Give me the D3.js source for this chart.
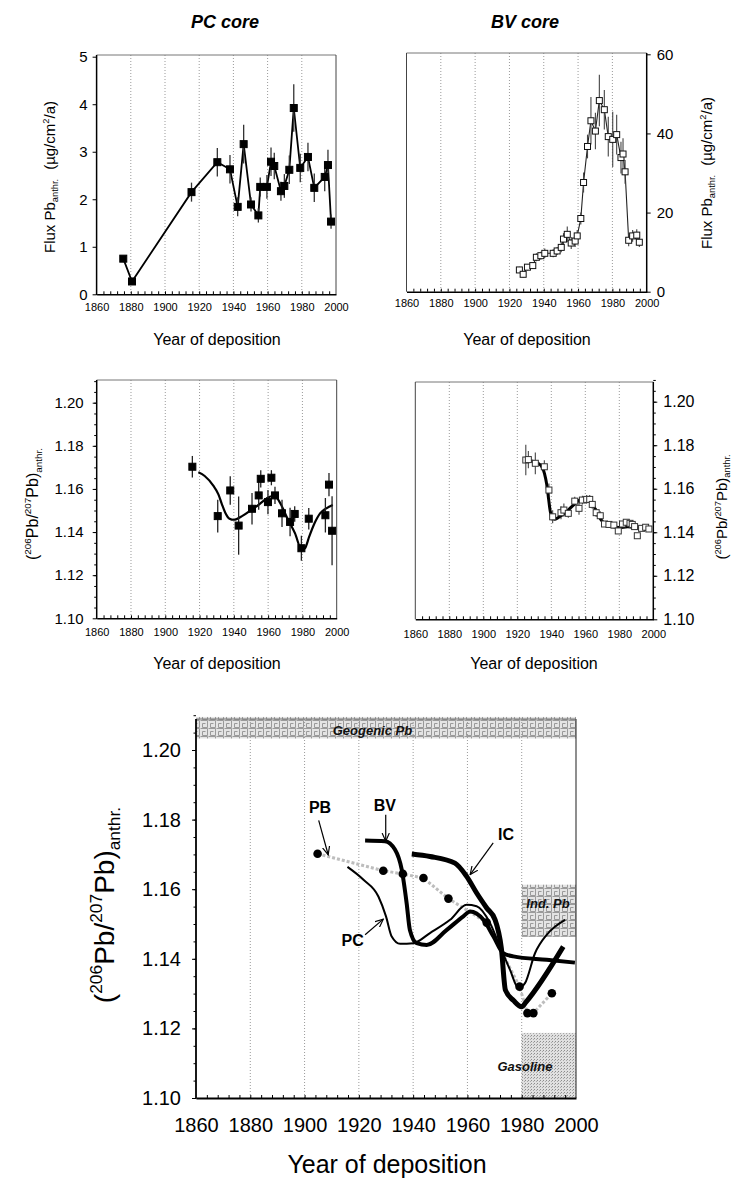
<!DOCTYPE html>
<html><head><meta charset="utf-8">
<script src="https://cdn.jsdelivr.net/npm/d3@7"></script>
<style>body{margin:0;background:#fff} svg{display:block}</style>
</head><body>
<svg id="c" width="732" height="1178"></svg>
<script>
const FONT = '"Liberation Sans", Arial, Helvetica, sans-serif';
// ---------- data ----------
const xTickYears = [1860,1880,1900,1920,1940,1960,1980,2000];
const gridYears = [1880,1900,1920,1940,1960,1980];
const pcFluxTicks = [0,1,2,3,4,5];
const bvFluxTicks = [0,20,40,60];
const ratioTicks = [1.10,1.12,1.14,1.16,1.18,1.20];

const pcFluxYear = [1875.6,1880.7,1915.5,1930.6,1938.0,1942.5,1946.0,1950.3,1954.6,1955.7,1959.6,1962.0,1963.9,1967.8,1969.8,1972.7,1975.3,1979.1,1983.6,1987.3,1993.4,1995.3,1997.1];
const pcFluxVal  = [0.75,0.27,2.15,2.78,2.63,1.84,3.16,1.89,1.66,2.26,2.26,2.79,2.70,2.17,2.28,2.62,3.92,2.66,2.89,2.24,2.47,2.72,1.53];
const pcFluxErr  = [0.05,0.03,0.2,0.3,0.3,0.2,0.41,0.15,0.15,0.2,0.25,0.3,0.28,0.2,0.25,0.3,0.5,0.3,0.3,0.3,0.3,0.32,0.15];

const bvFluxYear = [1925.8,1928.0,1930.5,1933.6,1935.7,1938.3,1940.6,1945.5,1947.8,1950.2,1951.5,1953.7,1956.0,1958.3,1959.5,1961.6,1963.2,1965.5,1967.5,1970.1,1972.4,1975.3,1977.6,1980.2,1982.5,1985.0,1986.2,1987.4,1989.5,1991.8,1994.2,1995.7];
const bvFluxVal  = [5.5,4.4,6.2,6.6,8.7,9.1,9.7,9.7,10.3,11.2,13.3,14.5,12.3,12.8,14.1,18.5,27.6,36.7,43.2,40.6,48.3,46.0,39.2,38.5,39.7,33.9,34.8,30.3,13.0,14.1,14.3,12.5];
const bvFluxErr  = [0.8,0.8,0.8,0.8,1,1,1.2,1,1,1.2,1.5,2,1.5,1.5,1.5,1.5,2.5,3,6,4.6,6.5,5,5,7,5,4,4,3,1.5,1.5,1.5,1.2];

const pcRatioYear = [1915.8,1930.6,1937.9,1942.8,1950.6,1954.5,1955.7,1959.9,1961.9,1964.0,1968.1,1972.8,1975.5,1979.4,1983.7,1993.4,1995.5,1997.3];
const pcRatioVal  = [1.1703,1.1474,1.1593,1.1430,1.1508,1.1570,1.1647,1.1539,1.1652,1.1570,1.1487,1.1447,1.1484,1.1325,1.1462,1.1478,1.1620,1.1406];
const pcRatioErr  = [0.005,0.0076,0.0066,0.0135,0.0073,0.0066,0.004,0.0056,0.0035,0.004,0.0063,0.0066,0.0036,0.0058,0.005,0.008,0.0054,0.016];
const pcFitYear = [1919.3,1923,1928,1931,1933,1935,1937.5,1940,1945,1950,1955,1959,1962,1964,1967,1971,1975.7,1979.6,1981.5,1984,1987,1990.3,1994,1997.7];
const pcFitVal  = [1.1677,1.1660,1.1615,1.1575,1.1530,1.1490,1.1462,1.1457,1.1475,1.1502,1.1530,1.1555,1.1566,1.1566,1.1535,1.1468,1.1394,1.1317,1.1325,1.1380,1.1440,1.1487,1.1510,1.1525];

const bvRatioYear = [1925.0,1926.5,1930.6,1935.9,1938.6,1940.8,1945.7,1947.4,1950.0,1953.8,1956.3,1958.3,1960.8,1962.6,1964.1,1966.4,1968.8,1971.3,1973.9,1976.8,1979.4,1981.9,1984.1,1986.3,1987.6,1989.0,1990.6,1993.1,1995.5,1997.4];
const bvRatioVal  = [1.1732,1.1734,1.1717,1.1701,1.1594,1.1471,1.1490,1.1502,1.1487,1.1543,1.1510,1.1548,1.1551,1.1551,1.1528,1.1490,1.1476,1.1438,1.1436,1.1433,1.1406,1.1438,1.1446,1.1441,1.1436,1.1426,1.1384,1.1418,1.1423,1.1415];
const bvRatioErr  = [0.007,0.004,0.005,0.003,0.003,0.003,0.003,0.003,0.002,0.002,0.003,0.002,0.002,0.002,0.002,0.002,0.002,0.001,0.001,0.001,0.001,0.001,0.001,0.001,0.001,0.001,0.001,0.001,0.001,0.001];
const bvFitYear = [1923.5,1928,1932,1934.5,1936,1937.3,1938.3,1939.3,1940.5,1942,1945,1949,1953,1957,1960,1963,1966,1969,1972,1976,1980,1985,1990,1997];
const bvFitVal  = [1.1733,1.1728,1.1718,1.1700,1.1670,1.1620,1.1560,1.1500,1.1465,1.1460,1.1472,1.1495,1.1525,1.1550,1.1555,1.1545,1.1505,1.1460,1.1435,1.1425,1.1422,1.1425,1.1420,1.1412];

// composite panel
const compPcYear = [1915.8,1921.7,1927.2,1930,1932.1,1935.2,1940.1,1946.2,1953.6,1959.7,1963.4,1968.3,1972,1975.7,1978.8,1981.2,1984.9,1989.2,1996];
const compPcVal  = [1.1664,1.1627,1.1579,1.1522,1.1464,1.1443,1.1445,1.1474,1.1512,1.1555,1.1551,1.1503,1.1435,1.1368,1.1316,1.1330,1.1416,1.1469,1.1512];
const compBvYear = [1922.3,1929.6,1933.3,1935.8,1937.6,1938.8,1941.3,1945,1952.4,1958.5,1961,1965.9,1969.6,1973.2,1976.9,1989.2,1999.6];
const compBvVal  = [1.1740,1.1738,1.1714,1.1656,1.1560,1.1483,1.1445,1.1440,1.1483,1.1522,1.1536,1.1512,1.1464,1.1416,1.1407,1.1397,1.1389];
const compIcYear = [1939.5,1946.2,1955.4,1959.7,1963.4,1967.1,1970.2,1972.5,1974,1977,1980,1981.5,1995.3];
const compIcVal  = [1.1701,1.1694,1.1675,1.1637,1.1589,1.1546,1.1512,1.1430,1.1310,1.1280,1.1262,1.1275,1.1435];
const compPbYear = [1904.8,1929.0,1936.2,1943.8,1953.0,1967.1,1979.2,1982.1,1984.3,1991.1];
const compPbVal  = [1.1702,1.1653,1.1644,1.1632,1.1573,1.1504,1.1320,1.1244,1.1244,1.1301];

const bandNames = ['Geogenic Pb','Ind. Pb','Gasoline'];
const bandX0 = [1860,1980,1980];
const bandX1 = [2000,2000,2000];
const bandY0 = [1.2033,1.1463,1.10];
const bandY1 = [1.2095,1.1613,1.1187];
const bandLabelYear = [1925,1989.7,1981.2];
const bandLabelVal = [1.2042,1.1547,1.1078];

const curveNames = ['PB','BV','IC','PC'];
const curveLabelYear = [1905.7,1929.6,1974.2,1917.7];
const curveLabelVal  = [1.1819,1.1824,1.1742,1.1436];
const arrowFromYear = [1905.2,1929.9,1969.5,1922.3];
const arrowFromVal  = [1.1798,1.1814,1.1733,1.1469];
const arrowToYear   = [1908.7,1929.9,1961.0,1929.0];
const arrowToVal    = [1.1699,1.1738,1.1642,1.1514];

// ---------- drawing ----------
const svg = d3.select('#c').attr('font-family', FONT);
const defs = svg.append('defs');
const stip = defs.append('pattern').attr('id','stip').attr('width',3).attr('height',3).attr('patternUnits','userSpaceOnUse');
stip.append('rect').attr('width',3).attr('height',3).attr('fill','#e0e0e0');
stip.append('rect').attr('width',1).attr('height',1).attr('fill','#8c8c8c');
stip.append('rect').attr('x',2).attr('y',1).attr('width',1).attr('height',1).attr('fill','#aaaaaa');
const maze = defs.append('pattern').attr('id','maze').attr('width',8).attr('height',8).attr('patternUnits','userSpaceOnUse');
maze.append('rect').attr('width',8).attr('height',8).attr('fill','#e4e4e4');
maze.append('path').attr('d','M0.5,0.5H7.5V7.5H2.5V3.5H5.5').attr('fill','none').attr('stroke','#9a9a9a').attr('stroke-width',1);
defs.append('marker').attr('id','arr').attr('viewBox','0 0 10 10').attr('refX',9).attr('refY',5)
  .attr('markerWidth',9).attr('markerHeight',9).attr('orient','auto').attr('markerUnits','userSpaceOnUse')
  .append('path').attr('d','M0,1 L9,5 L0,9').attr('fill','none').attr('stroke','#000').attr('stroke-width',1.3);

function panel(o){
  const g = svg.append('g');
  const x = d3.scaleLinear().domain([1860,2000]).range([o.x0,o.x1]);
  const y = d3.scaleLinear().domain(o.yd).range([o.y0,o.y1]);
  g.append('g').selectAll('line').data(gridYears).join('line')
    .attr('x1',d=>x(d)).attr('x2',d=>x(d)).attr('y1',o.top).attr('y2',o.y0)
    .attr('stroke','#9a9a9a').attr('stroke-width',1).attr('stroke-dasharray','1,2');
  g.append('line').attr('x1',o.x0).attr('x2',o.x1).attr('y1',o.top).attr('y2',o.top).attr('stroke','#777').attr('stroke-width',o.frameW||1);
  const fx = o.right ? o.x0 : o.x1;
  g.append('line').attr('x1',fx).attr('x2',fx).attr('y1',o.top).attr('y2',o.y0).attr('stroke','#444').attr('stroke-width',o.frameW||1);
  // x axis
  const xa = g.append('g').attr('transform',`translate(0,${o.y0})`)
    .call(d3.axisBottom(x).tickValues(xTickYears).tickSize(0).tickSizeOuter(0).tickPadding(o.xpad).tickFormat(d3.format('d')))
    .attr('font-family',FONT).attr('font-size',o.xfs);
  xa.select('.domain').attr('stroke','#000').attr('stroke-width',o.axW||1.5);
  xa.selectAll('text').attr('fill','#000');
  g.append('g').attr('transform',`translate(0,${o.y0})`)
    .call(d3.axisBottom(x).tickValues(d3.range(1864,2000,4)).tickSize(-3).tickSizeOuter(0).tickFormat(''))
    .call(s=>s.select('.domain').remove()).selectAll('line').attr('stroke','#000');
  // y axis
  const ax = (o.right ? d3.axisRight(y) : d3.axisLeft(y)).tickValues(o.yt).tickSize(4).tickSizeOuter(0)
    .tickPadding(o.ypad).tickFormat(d3.format(o.yfmt));
  const yx = o.right ? o.x1 : o.x0;
  const ya = g.append('g').attr('transform',`translate(${yx},0)`).call(ax)
    .attr('font-family',FONT).attr('font-size',o.yfs);
  ya.select('.domain').remove();
  ya.selectAll('text').attr('fill','#000');
  if (o.yminor){
    g.append('g').attr('transform',`translate(${yx},0)`)
      .call((o.right ? d3.axisRight(y) : d3.axisLeft(y)).tickValues(o.yminor).tickSize(2.5).tickSizeOuter(0).tickFormat(''))
      .call(s=>s.select('.domain').remove());
  }
  g.append('line').attr('x1',yx).attr('x2',yx).attr('y1',o.top).attr('y2',o.y0+0.75).attr('stroke','#000').attr('stroke-width',o.axW||1.5);
  return {g,x,y};
}

function errBars(p, yr, val, err, color, w){
  p.g.append('g').selectAll('line').data(yr.map((d,i)=>i)).join('line')
    .attr('x1',i=>p.x(yr[i])).attr('x2',i=>p.x(yr[i]))
    .attr('y1',i=>p.y(val[i]-err[i])).attr('y2',i=>p.y(val[i]+err[i]))
    .attr('stroke',color).attr('stroke-width',w);
}
function squares(p, yr, val, s, fill, stroke){
  p.g.append('g').selectAll('rect').data(yr.map((d,i)=>i)).join('rect')
    .attr('x',i=>p.x(yr[i])-s/2).attr('y',i=>p.y(val[i])-s/2).attr('width',s).attr('height',s)
    .attr('fill',fill).attr('stroke',stroke).attr('stroke-width',1);
}
function pathOf(p, yr, val, curve){
  return d3.line().x(i=>p.x(yr[i])).y(i=>p.y(val[i])).curve(curve)(yr.map((d,i)=>i));
}
function ratioLabel(tx, ty, fs){
  const t = svg.append('text').attr('transform',`translate(${tx},${ty}) rotate(-90)`)
    .attr('text-anchor','middle').attr('font-size',fs).attr('fill','#000');
  const s = fs*0.62, up = fs*0.42;
  t.append('tspan').text('(');
  t.append('tspan').attr('font-size',s).attr('dy',-up).text('206');
  t.append('tspan').attr('dy',up).text('Pb/');
  t.append('tspan').attr('font-size',s).attr('dy',-up).text('207');
  t.append('tspan').attr('dy',up).text('Pb)');
  t.append('tspan').attr('font-size',s).attr('dy',fs*0.22).text('anthr.');
}
function fluxLabel(tx, ty, fs){
  const t = svg.append('text').attr('transform',`translate(${tx},${ty}) rotate(-90)`)
    .attr('text-anchor','middle').attr('font-size',fs).attr('fill','#000');
  const s = fs*0.62;
  t.append('tspan').text('Flux Pb');
  t.append('tspan').attr('font-size',s).attr('dy',fs*0.22).text('anthr.');
  t.append('tspan').attr('dy',-fs*0.22).attr('dx',fs*0.6).text('(µg/cm');
  t.append('tspan').attr('font-size',s).attr('dy',-fs*0.42).text('2');
  t.append('tspan').attr('dy',fs*0.42).text('/a)');
}
function xTitle(cx, cy, fs){
  svg.append('text').attr('x',cx).attr('y',cy).attr('text-anchor','middle').attr('font-size',fs).text('Year of deposition');
}

// titles
svg.append('text').attr('x',225).attr('y',28).attr('text-anchor','middle').attr('font-size',18)
  .attr('font-weight','bold').attr('font-style','italic').text('PC core');
svg.append('text').attr('x',525).attr('y',28).attr('text-anchor','middle').attr('font-size',18)
  .attr('font-weight','bold').attr('font-style','italic').text('BV core');

// ---- Panel 1: PC flux ----
const p1 = panel({x0:96.6,x1:336,y0:294.3,y1:56.7,top:55,yd:[0,5],yt:pcFluxTicks,yfmt:'d',
  xpad:9,xfs:11,ypad:5,yfs:15});
p1.g.append('path').attr('d',pathOf(p1,pcFluxYear,pcFluxVal,d3.curveLinear)).attr('fill','none').attr('stroke','#000').attr('stroke-width',1.8);
errBars(p1,pcFluxYear,pcFluxVal,pcFluxErr,'#333',1.3);
squares(p1,pcFluxYear,pcFluxVal,7,'#000','#000');
fluxLabel(55,177,15);
xTitle(217,345,16);

// ---- Panel 2: BV flux ----
const p2 = panel({x0:406.5,x1:646.7,y0:291.7,y1:54.3,top:53,yd:[0,60],yt:bvFluxTicks,yfmt:'d',right:true,
  xpad:8,xfs:11,ypad:6,yfs:15});
p2.g.append('path').attr('d',pathOf(p2,bvFluxYear,bvFluxVal,d3.curveLinear)).attr('fill','none').attr('stroke','#222').attr('stroke-width',1.1);
errBars(p2,bvFluxYear,bvFluxVal,bvFluxErr,'#444',1.1);
squares(p2,bvFluxYear,bvFluxVal,6,'#fff','#111');
fluxLabel(712,173,15);
xTitle(527,345,16);

// ---- Panel 3: PC ratio ----
const ratioMinor = d3.range(1.105,1.2101,0.005);
const p3 = panel({x0:96.7,x1:336.7,y0:618.3,y1:402.7,top:380,yd:[1.10,1.20],yt:ratioTicks,yfmt:'.2f',
  xpad:10,xfs:11,ypad:9,yfs:15,yminor:ratioMinor});
p3.g.append('path').attr('d',pathOf(p3,pcFitYear,pcFitVal,d3.curveMonotoneX)).attr('fill','none').attr('stroke','#000').attr('stroke-width',2.2);
errBars(p3,pcRatioYear,pcRatioVal,pcRatioErr,'#222',1.3);
squares(p3,pcRatioYear,pcRatioVal,7,'#000','#000');
ratioLabel(38,504,16);
xTitle(217,669,16);

// ---- Panel 4: BV ratio ----
const p4 = panel({x0:415.3,x1:653.3,y0:619.3,y1:401.7,top:382,yd:[1.10,1.20],yt:ratioTicks,yfmt:'.2f',right:true,
  xpad:11,xfs:11,ypad:6,yfs:16,yminor:ratioMinor});
errBars(p4,bvRatioYear,bvRatioVal,bvRatioErr,'#444',1.1);
p4.g.append('path').attr('d',pathOf(p4,bvFitYear,bvFitVal,d3.curveMonotoneX)).attr('fill','none').attr('stroke','#000').attr('stroke-width',3);
squares(p4,bvRatioYear,bvRatioVal,6,'#fff','#333');
ratioLabel(727,507,15);
xTitle(534,669,16);

// ---- Panel 5: composite ----
const p5 = panel({x0:196,x1:576,y0:1098,y1:750,top:719,yd:[1.10,1.20],yt:ratioTicks,yfmt:'.2f',
  xpad:20,xfs:20,ypad:11,yfs:20,yminor:ratioMinor,axW:1.8,frameW:1.2});
// bands
p5.g.insert('g',':first-child').selectAll('rect').data(bandNames.map((d,i)=>i)).join('rect')
  .attr('x',i=>p5.x(bandX0[i])).attr('width',i=>p5.x(bandX1[i])-p5.x(bandX0[i]))
  .attr('y',i=>p5.y(bandY1[i])).attr('height',i=>p5.y(bandY0[i])-p5.y(bandY1[i]))
  .attr('fill',i=>i===2?'url(#stip)':'url(#maze)');
p5.g.append('g').selectAll('text').data(bandNames.map((d,i)=>i)).join('text')
  .attr('x',i=>p5.x(bandLabelYear[i])).attr('y',i=>p5.y(bandLabelVal[i]))
  .attr('text-anchor','middle').attr('font-size',13).attr('font-weight','bold').attr('font-style','italic')
  .attr('fill','#111').text(i=>bandNames[i]);
// PB gray dotted link
p5.g.append('path').attr('d',pathOf(p5,compPbYear,compPbVal,d3.curveLinear)).attr('fill','none')
  .attr('stroke','#bdbdbd').attr('stroke-width',3).attr('stroke-dasharray','3,2');
p5.g.append('path').attr('d',pathOf(p5,compPcYear,compPcVal,d3.curveMonotoneX)).attr('fill','none').attr('stroke','#000').attr('stroke-width',2);
p5.g.append('path').attr('d',pathOf(p5,compBvYear,compBvVal,d3.curveMonotoneX)).attr('fill','none').attr('stroke','#000').attr('stroke-width',4);
p5.g.append('path').attr('d',pathOf(p5,compIcYear,compIcVal,d3.curveMonotoneX)).attr('fill','none').attr('stroke','#000').attr('stroke-width',5);
p5.g.append('g').selectAll('circle').data(compPbYear.map((d,i)=>i)).join('circle')
  .attr('cx',i=>p5.x(compPbYear[i])).attr('cy',i=>p5.y(compPbVal[i])).attr('r',4.3).attr('fill','#000');
// arrows + labels
p5.g.append('g').selectAll('line').data(curveNames.map((d,i)=>i)).join('line')
  .attr('x1',i=>p5.x(arrowFromYear[i])).attr('y1',i=>p5.y(arrowFromVal[i]))
  .attr('x2',i=>p5.x(arrowToYear[i])).attr('y2',i=>p5.y(arrowToVal[i]))
  .attr('stroke','#000').attr('stroke-width',1.2).attr('marker-end','url(#arr)');
p5.g.append('g').selectAll('text').data(curveNames.map((d,i)=>i)).join('text')
  .attr('x',i=>p5.x(curveLabelYear[i])).attr('y',i=>p5.y(curveLabelVal[i]))
  .attr('text-anchor','middle').attr('font-size',16).attr('font-weight','bold').text(i=>curveNames[i]);
ratioLabel(114,905,28);
xTitle(387,1173,25);
</script>
</body></html>
